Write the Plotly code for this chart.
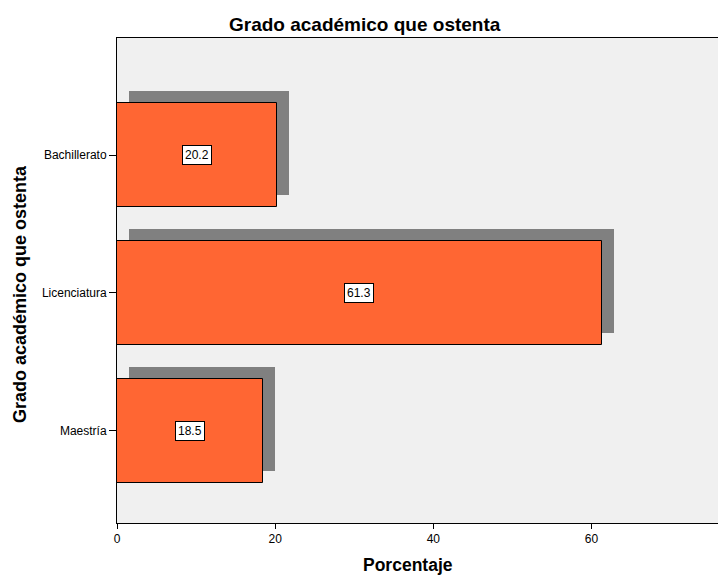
import plotly.graph_objects as go

categorias = ["Maestría", "Licenciatura", "Bachillerato"]
porcentajes = [18.5, 61.3, 20.2]
posiciones = [0, 1, 2]

sombra_dx = 1.52
sombra_dy = 0.087
ancho = 0.754

# plot area in pixels
L, R, T, B = 117, 718, 38, 523
W, H = R - L, B - T


def px(x):
    return (x - L) / W


def py(y):
    return (B - y) / H


fig = go.Figure()

# shadow bars
fig.add_trace(go.Bar(
    y=[p + sombra_dy for p in posiciones],
    x=porcentajes,
    base=[sombra_dx] * len(porcentajes),
    orientation="h",
    width=ancho,
    marker=dict(color="#808080", line=dict(width=0)),
    hoverinfo="skip",
    showlegend=False,
))

# main bars
fig.add_trace(go.Bar(
    y=posiciones,
    x=porcentajes,
    orientation="h",
    width=ancho,
    marker=dict(color="#FF6633", line=dict(color="black", width=1)),
    showlegend=False,
))

for p, v in zip(posiciones, porcentajes):
    fig.add_annotation(
        x=v / 2, y=p, xref="x", yref="y",
        text=f"{v:.1f}", showarrow=False,
        font=dict(family="Liberation Sans, Arial", size=12, color="black"),
        bgcolor="white", bordercolor="black", borderwidth=1, borderpad=2,
    )

fuente = "Liberation Sans, Arial"
fig.add_annotation(
    x=px(365), y=py(24), xref="paper", yref="paper",
    xanchor="center", yanchor="middle", showarrow=False,
    text="<b>Grado académico que ostenta</b>",
    font=dict(family=fuente, size=19, color="black"),
)
fig.add_annotation(
    x=px(408), y=py(565), xref="paper", yref="paper",
    xanchor="center", yanchor="middle", showarrow=False,
    text="<b>Porcentaje</b>",
    font=dict(family=fuente, size=17.5, color="black"),
)
fig.add_annotation(
    x=px(20), y=py(294), xref="paper", yref="paper",
    xanchor="center", yanchor="middle", showarrow=False, textangle=-90,
    text="<b>Grado académico que ostenta</b>",
    font=dict(family=fuente, size=18, color="black"),
)

fig.update_layout(
    width=718, height=576,
    margin=dict(l=L, r=718 - R, t=T, b=576 - B, autoexpand=False),
    paper_bgcolor="white",
    plot_bgcolor="#F0F0F0",
    barmode="overlay",
    bargap=0,
    xaxis=dict(
        range=[0, 76], tickvals=[0, 20, 40, 60], automargin=False,
        showgrid=False, zeroline=False,
        showline=True, linecolor="black", linewidth=1, mirror=True,
        ticks="outside", ticklen=5, tickcolor="black",
        tickfont=dict(family=fuente, size=12, color="black"),
    ),
    yaxis=dict(
        range=[-0.667, 2.848], tickvals=posiciones, ticktext=categorias,
        automargin=False,
        showgrid=False, zeroline=False,
        showline=True, linecolor="black", linewidth=1,
        ticks="outside", ticklen=7, tickcolor="black",
        tickfont=dict(family=fuente, size=12, color="black"),
    ),
)

fig.write_html(
    "out.html",
    config={"displayModeBar": False},
    post_script="document.body.style.margin='0';document.body.style.overflow='hidden';",
)
